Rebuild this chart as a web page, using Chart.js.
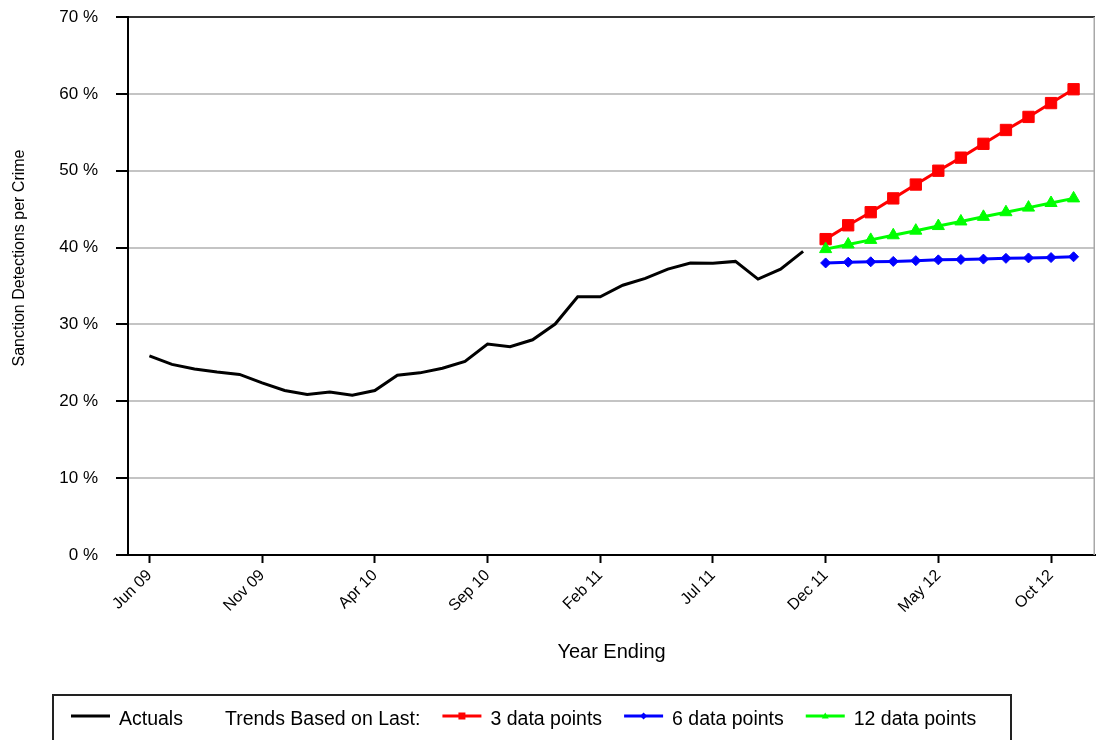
<!DOCTYPE html>
<html>
<head>
<meta charset="utf-8">
<script src="https://cdn.jsdelivr.net/npm/chart.js@4.4.0/dist/chart.umd.min.js"></script>
<style>html,body{margin:0;padding:0;background:#fff}canvas{display:block}</style>
</head>
<body>
<canvas id="c" width="1096" height="740"></canvas>
<script>
const months = ['Jun 09','Jul 09','Aug 09','Sep 09','Oct 09','Nov 09','Dec 09','Jan 10','Feb 10','Mar 10','Apr 10','May 10',
  'Jun 10','Jul 10','Aug 10','Sep 10','Oct 10','Nov 10','Dec 10','Jan 11','Feb 11','Mar 11','Apr 11','May 11',
  'Jun 11','Jul 11','Aug 11','Sep 11','Oct 11','Nov 11','Dec 11','Jan 12','Feb 12','Mar 12','Apr 12','May 12',
  'Jun 12','Jul 12','Aug 12','Sep 12','Oct 12','Nov 12'];
const xTickLabels = ['Jun 09','Nov 09','Apr 10','Sep 10','Feb 11','Jul 11','Dec 11','May 12','Oct 12'];
const yTickValues = [0,10,20,30,40,50,60,70];

const actuals = [25.9,24.8,24.2,23.8,23.5,22.4,21.4,20.9,21.2,20.8,21.4,23.4,23.7,24.3,25.2,27.45,27.1,28.0,30.05,33.6,33.6,35.1,36.0,37.2,38.0,37.95,38.2,35.9,37.2,39.5];
const trend3 = [41.1,42.9,44.6,46.4,48.2,50.0,51.7,53.5,55.3,57.0,58.8,60.6];
const trend6 = [38.0,38.1,38.15,38.2,38.3,38.4,38.45,38.5,38.6,38.65,38.7,38.8];
const trend12 = [39.8,40.4,41.0,41.6,42.2,42.8,43.4,44.0,44.6,45.2,45.8,46.4];
const trendStartMonth = 'Dec 11';

const seriesNames = ['Actuals','3 data points','6 data points','12 data points'];
const legendHeading = 'Trends Based on Last:';
const yTitle = 'Sanction Detections per Crime';
const xTitle = 'Year Ending';

const FONT = "'Liberation Sans', Arial, sans-serif";
const trendStart = months.indexOf(trendStartMonth);
const toPts = (arr, start) => arr.map((v, i) => ({x: start + i, y: v}));

const styles = [
  {color:'#000000', style:null},
  {color:'#ff0000', style:'rect'},
  {color:'#0000ff', style:'rectRot'},
  {color:'#00ff00', style:'triangle'}
];

function drawMarker(ctx, style, x, y, r, color) {
  ctx.fillStyle = color;
  ctx.beginPath();
  if (style === 'rect') {
    ctx.rect(x - r, y - r, 2 * r, 2 * r);
  } else if (style === 'rectRot') {
    ctx.moveTo(x - r, y); ctx.lineTo(x, y - r); ctx.lineTo(x + r, y); ctx.lineTo(x, y + r); ctx.closePath();
  } else if (style === 'triangle') {
    ctx.moveTo(x, y - r); ctx.lineTo(x + r, y + r * 0.7); ctx.lineTo(x - r, y + r * 0.7); ctx.closePath();
  }
  ctx.fill();
}

const customDraw = {
  id: 'customDraw',
  afterDraw(chart) {
    const ctx = chart.ctx;
    const a = chart.chartArea;
    ctx.save();
    ctx.strokeStyle = '#a8a8a8';
    ctx.lineWidth = 1.5;
    ctx.beginPath();
    ctx.moveTo(a.right - 0.75, a.top);
    ctx.lineTo(a.right - 0.75, a.bottom);
    ctx.stroke();
    ctx.restore();

    ctx.save();
    ctx.fillStyle = '#000';
    ctx.font = '16px ' + FONT;
    ctx.translate(20, 258);
    ctx.rotate(-Math.PI / 2);
    ctx.textAlign = 'center';
    ctx.textBaseline = 'middle';
    ctx.fillText(yTitle, 0, 0);
    ctx.restore();

    ctx.save();
    ctx.strokeStyle = '#222';
    ctx.lineWidth = 2;
    ctx.strokeRect(53, 695, 958, 60);
    ctx.font = '19.5px ' + FONT;
    ctx.textBaseline = 'alphabetic';
    ctx.textAlign = 'left';
    const ly = 716, ty = 725, lineLen = 39, gapText = 9, gapItem = 22;
    let x = 71;
    const ds = chart.data.datasets;
    for (let i = 0; i < ds.length; i++) {
      const col = styles[i].color;
      ctx.strokeStyle = col;
      ctx.lineWidth = 3;
      ctx.beginPath();
      ctx.moveTo(x, ly);
      ctx.lineTo(x + lineLen, ly);
      ctx.stroke();
      if (styles[i].style) drawMarker(ctx, styles[i].style, x + lineLen / 2, ly, 3.5, col);
      x += lineLen + gapText;
      ctx.fillStyle = '#000';
      ctx.fillText(ds[i].label, x, ty);
      x += ctx.measureText(ds[i].label).width + gapItem;
      if (i === 0) {
        x += 20;
        ctx.fillText(legendHeading, x, ty);
        x += ctx.measureText(legendHeading).width + gapItem;
      }
    }
    ctx.restore();
  }
};

new Chart(document.getElementById('c'), {
  type: 'line',
  data: {
    datasets: [
      {label: seriesNames[0], data: toPts(actuals, 0), borderColor: styles[0].color, backgroundColor: styles[0].color,
        borderWidth: 3, pointRadius: 0, tension: 0, order: 3},
      {label: seriesNames[1], data: toPts(trend3, trendStart), borderColor: styles[1].color, backgroundColor: styles[1].color,
        borderWidth: 3, pointStyle: 'rect', pointRadius: 8, pointBorderWidth: 1, pointBorderColor: styles[1].color, order: 2},
      {label: seriesNames[2], data: toPts(trend6, trendStart), borderColor: styles[2].color, backgroundColor: styles[2].color,
        borderWidth: 3, pointStyle: 'rectRot', pointRadius: 5, pointBorderWidth: 1, pointBorderColor: styles[2].color, order: 1},
      {label: seriesNames[3], data: toPts(trend12, trendStart), borderColor: styles[3].color, backgroundColor: styles[3].color,
        borderWidth: 3, pointStyle: 'triangle', pointRadius: 7, pointBorderWidth: 1, pointBorderColor: styles[3].color, order: 0}
    ]
  },
  options: {
    responsive: false,
    animation: false,
    layout: {autoPadding: false, padding: {left: 0, top: 17, right: 1, bottom: 75}},
    plugins: {legend: {display: false}, tooltip: {enabled: false}},
    scales: {
      x: {
        type: 'linear',
        min: -0.95,
        max: 41.95,
        afterFit(s) { s.height = 110; s.paddingLeft = 0; s.paddingRight = 0; },
        afterBuildTicks(s) { s.ticks = xTickLabels.map(l => ({value: months.indexOf(l)})); },
        grid: {drawOnChartArea: false, drawTicks: true, tickLength: 8, tickWidth: 2, tickColor: '#000'},
        border: {display: true, color: '#000', width: 2},
        ticks: {autoSkip: false, maxRotation: 45, minRotation: 45, padding: 3, color: '#000',
          font: {family: FONT, size: 16}, callback: (v) => months[v]},
        title: {display: true, text: xTitle, color: '#000', font: {family: FONT, size: 20}, padding: {top: 0, bottom: 1}}
      },
      y: {
        min: 0,
        max: 70,
        afterFit(s) { s.width = 128; s.paddingTop = 0; s.paddingBottom = 0; },
        afterBuildTicks(s) { s.ticks = yTickValues.map(v => ({value: v})); },
        grid: {
          color: (c) => (c.tick && (c.tick.value === 70 || c.tick.value === 0)) ? '#333' : '#c4c4c4',
          lineWidth: 2, tickLength: 12, tickWidth: 2, tickColor: '#000'
        },
        border: {display: true, color: '#000', width: 2},
        ticks: {padding: 18, color: '#000', font: {family: FONT, size: 17}, callback: (v) => v + ' %'}
      }
    }
  },
  plugins: [customDraw]
});
</script>
</body>
</html>
